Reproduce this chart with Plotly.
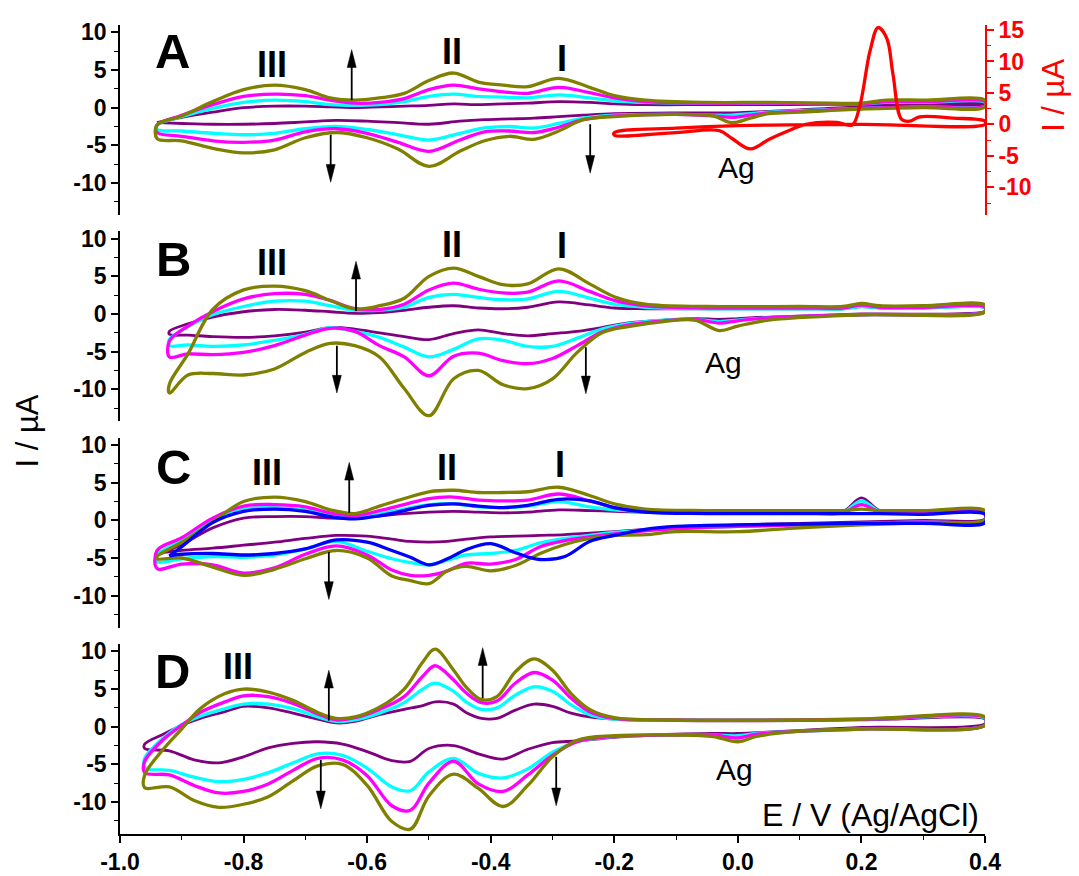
import plotly.graph_objects as go

# ---------------- data (E in V, I in uA) ----------------
# Panel A
E_A_UP = [-0.94, -0.9, -0.85, -0.8, -0.75, -0.7, -0.66, -0.62, -0.58, -0.54, -0.5, -0.46, -0.42,
          -0.38, -0.34, -0.29, -0.24, -0.2, -0.15, -0.05, 0.05, 0.15, 0.2, 0.24, 0.3, 0.4]
E_A_DN = [0.4, 0.3, 0.2, 0.1, 0.05, 0.02, -0.01, -0.04, -0.1, -0.2, -0.25, -0.29, -0.33, -0.37,
          -0.41, -0.45, -0.5, -0.55, -0.6, -0.65, -0.7, -0.75, -0.8, -0.85, -0.9, -0.94]
A_PURPLE_UP = [-2.0, -1.3, -0.6, 0.0, 0.2, 0.2, 0.1, 0.0, 0.1, 0.2, 0.3, 0.5, 0.4, 0.5, 0.6, 0.8, 0.7, 0.5, 0.4, 0.4, 0.4, 0.4, 0.4, 0.5, 0.5, 0.5]
A_PURPLE_DN = [0.4, 0.3, 0.1, -0.3, -0.5, -0.6, -0.7, -0.7, -0.7, -0.8, -1.0, -1.2, -1.4, -1.5, -1.6, -1.8, -2.2, -2.0, -1.8, -1.7, -1.9, -2.1, -2.2, -2.2, -2.1, -2.0]
A_CYAN_UP = [-2.3, -1.2, -0.1, 0.7, 1.0, 0.8, 0.4, 0.3, 0.4, 0.8, 1.5, 1.8, 1.5, 1.4, 1.3, 1.7, 1.3, 0.9, 0.7, 0.6, 0.6, 0.5, 0.5, 0.7, 0.7, 0.7]
A_CYAN_DN = [0.2, 0.1, -0.1, -0.4, -0.6, -0.8, -1.0, -1.0, -0.9, -1.0, -1.4, -2.1, -2.7, -2.5, -2.7, -3.4, -4.3, -3.6, -2.9, -2.5, -2.8, -3.4, -3.6, -3.4, -3.1, -2.9]
A_MAGENTA_UP = [-2.3, -1.0, 0.4, 1.5, 1.8, 1.6, 1.0, 0.6, 0.7, 1.2, 2.4, 3.0, 2.5, 2.1, 1.9, 2.7, 2.0, 1.3, 0.8, 0.6, 0.6, 0.5, 0.5, 0.8, 0.8, 0.8]
A_MAGENTA_DN = [0.2, 0.1, -0.1, -0.5, -0.7, -1.0, -1.3, -1.1, -0.9, -1.1, -1.6, -2.6, -3.3, -3.1, -3.2, -4.3, -5.8, -4.6, -3.4, -2.8, -3.2, -4.3, -4.6, -4.4, -3.8, -3.3]
A_OLIVE_UP = [-2.3, -1.1, 0.8, 2.4, 3.0, 2.4, 1.3, 1.0, 1.3, 1.9, 3.6, 4.6, 3.4, 3.0, 2.8, 3.9, 2.7, 1.6, 1.0, 0.7, 0.7, 0.6, 0.6, 1.0, 1.0, 1.0]
A_OLIVE_DN = [0.1, 0.0, -0.2, -0.6, -0.8, -1.4, -2.0, -1.1, -0.9, -1.2, -1.6, -3.1, -4.2, -3.8, -4.4, -5.8, -7.8, -5.5, -4.0, -3.3, -4.0, -5.6, -6.0, -5.4, -4.4, -4.1]
# Ag reference CV (right axis)
E_RED_FWD = [-0.2, -0.1, -0.03, -0.01, 0.02, 0.05, 0.08, 0.11, 0.16, 0.185, 0.197, 0.214, 0.227, 0.241, 0.251, 0.265, 0.278, 0.294, 0.348, 0.4]
I_RED_FWD = [-1.7, -1.3, -1.0, -2.2, -3.9, -2.4, -1.1, 0.0, 0.3, -0.1, 2.8, 11.7, 15.4, 13.7, 8.0, 0.8, 0.5, 1.2, 1.0, 0.5]
E_RED_REV = [0.4, 0.2, 0.0, -0.1, -0.2]
I_RED_REV = [0.0, 0.0, -0.2, -0.6, -1.3]

# Panel B
E_B_UP = [-0.92, -0.89, -0.85, -0.8, -0.75, -0.7, -0.66, -0.62, -0.58, -0.54, -0.5, -0.46, -0.42,
          -0.38, -0.34, -0.29, -0.24, -0.2, -0.15, -0.05, 0.1, 0.17, 0.2, 0.23, 0.3, 0.4]
E_B_DN = [0.4, 0.2, 0.05, 0.0, -0.03, -0.07, -0.12, -0.18, -0.22, -0.26, -0.3, -0.34, -0.38, -0.42,
          -0.46, -0.5, -0.54, -0.58, -0.62, -0.66, -0.7, -0.75, -0.8, -0.85, -0.89, -0.92]
B_PURPLE_UP = [-2.3, -1.3, -0.4, 0.3, 0.6, 0.5, 0.3, 0.1, 0.2, 0.5, 0.9, 1.1, 0.8, 0.7, 0.9, 1.6, 1.2, 0.8, 0.7, 0.7, 0.7, 0.7, 1.0, 0.8, 0.8, 0.8]
B_PURPLE_DN = [0.4, 0.0, -0.4, -0.6, -0.7, -0.6, -0.8, -1.2, -1.8, -2.3, -2.6, -2.9, -2.6, -2.1, -2.6, -3.4, -3.0, -2.5, -2.0, -1.8, -2.4, -2.9, -3.1, -3.0, -2.8, -2.7]
B_CYAN_UP = [-3.4, -1.7, -0.1, 1.0, 1.7, 1.7, 1.1, 0.5, 0.5, 0.9, 2.2, 2.6, 2.2, 1.9, 2.0, 3.0, 2.1, 1.3, 0.9, 0.7, 0.7, 0.7, 1.0, 0.8, 0.8, 0.8]
B_CYAN_DN = [0.3, -0.1, -0.5, -0.8, -1.0, -0.7, -0.8, -1.3, -2.0, -3.2, -4.3, -4.3, -3.5, -3.3, -4.7, -5.7, -4.4, -3.1, -2.3, -1.8, -2.7, -3.5, -4.1, -4.3, -4.1, -4.2]
B_MAGENTA_UP = [-3.6, -1.6, 0.3, 2.0, 2.7, 2.6, 1.8, 0.7, 0.6, 1.3, 3.2, 4.1, 3.3, 2.8, 2.9, 4.4, 3.0, 1.8, 1.1, 0.8, 0.8, 0.8, 1.2, 0.9, 0.9, 0.9]
B_MAGENTA_DN = [0.3, -0.1, -0.5, -0.9, -1.2, -0.7, -0.9, -1.5, -2.4, -4.2, -5.9, -6.6, -6.2, -5.2, -5.6, -8.2, -5.7, -4.2, -2.3, -1.9, -2.8, -4.2, -5.1, -5.4, -5.3, -5.7]
B_OLIVE_UP = [-9.3, -5.3, 0.6, 3.2, 3.7, 3.1, 1.8, 0.7, 1.1, 2.1, 5.0, 6.1, 5.0, 3.9, 4.0, 6.0, 4.0, 2.3, 1.3, 1.0, 1.0, 1.0, 1.4, 1.1, 1.1, 1.2]
B_OLIVE_DN = [0.3, -0.1, -0.8, -1.6, -2.2, -0.8, -1.0, -1.7, -2.5, -5.1, -8.6, -9.9, -9.4, -7.5, -8.6, -13.5, -9.9, -5.7, -4.2, -3.9, -5.1, -7.3, -8.1, -7.9, -8.1, -10.5]

# Panel C
E_C_UP = [-0.94, -0.9, -0.85, -0.8, -0.75, -0.7, -0.66, -0.62, -0.58, -0.54, -0.5, -0.46, -0.42,
          -0.38, -0.34, -0.29, -0.24, -0.2, -0.15, -0.05, 0.1, 0.17, 0.2, 0.23, 0.3, 0.4]
E_C_DN = [0.4, 0.3, 0.2, 0.1, 0.0, -0.1, -0.15, -0.2, -0.24, -0.28, -0.32, -0.36, -0.4, -0.44,
          -0.47, -0.5, -0.53, -0.56, -0.6, -0.65, -0.7, -0.75, -0.8, -0.85, -0.9, -0.94]
E_C_UP_BLUE = [-0.92] + E_C_UP[1:]
E_C_DN_BLUE = E_C_DN[:-1] + [-0.92]
C_PURPLE_UP = [-4.6, -3.2, -1.0, 0.3, 0.5, 0.5, 0.3, 0.3, 0.6, 0.9, 1.1, 1.2, 1.1, 1.0, 1.1, 1.4, 1.3, 1.2, 1.1, 1.1, 1.1, 1.2, 3.0, 1.3, 1.1, 1.1]
C_PURPLE_DN = [0.2, 0.0, -0.2, -0.4, -0.6, -0.9, -1.2, -1.5, -1.7, -1.9, -2.0, -2.1, -2.2, -2.5, -2.8, -2.9, -2.8, -2.5, -2.1, -2.0, -2.4, -2.9, -3.3, -3.7, -4.0, -4.5]
C_CYAN_UP = [-4.6, -2.6, 0.1, 1.5, 1.7, 1.4, 0.8, 0.4, 0.9, 1.5, 2.1, 2.2, 1.8, 1.7, 1.9, 2.5, 1.8, 1.4, 1.2, 1.1, 1.1, 1.1, 2.6, 1.2, 1.1, 1.1]
C_CYAN_DN = [0.0, -0.2, -0.4, -0.6, -0.8, -1.0, -1.3, -1.6, -2.0, -2.4, -3.0, -4.0, -4.4, -4.6, -5.3, -5.9, -5.6, -5.1, -4.1, -2.8, -3.8, -4.6, -4.9, -4.8, -5.1, -5.5]
C_MAGENTA_UP = [-4.0, -2.3, 0.3, 1.9, 2.1, 1.8, 1.0, 0.6, 1.3, 2.1, 2.9, 3.1, 2.7, 2.6, 2.7, 3.5, 2.6, 1.7, 1.2, 1.0, 1.0, 1.0, 2.1, 1.1, 1.0, 1.0]
C_MAGENTA_DN = [0.0, -0.2, -0.4, -0.6, -0.8, -1.1, -1.4, -1.8, -2.2, -2.7, -3.5, -5.2, -5.8, -5.7, -6.7, -7.3, -7.3, -6.6, -4.6, -3.4, -4.5, -6.3, -7.0, -5.9, -5.8, -6.4]
C_OLIVE_UP = [-4.8, -2.9, -0.2, 2.5, 3.1, 2.5, 1.4, 0.9, 1.9, 2.9, 3.8, 4.0, 3.7, 3.7, 3.8, 4.4, 3.3, 2.2, 1.5, 1.3, 1.3, 1.3, 1.5, 1.3, 1.3, 1.3]
C_OLIVE_DN = [0.1, -0.3, -0.6, -1.0, -1.5, -1.5, -1.9, -2.0, -2.4, -3.2, -4.4, -6.0, -6.7, -6.1, -6.7, -8.4, -8.0, -7.4, -5.0, -4.0, -5.1, -6.5, -7.3, -6.2, -5.0, -5.1]
C_BLUE_UP = [-4.7, -3.5, -0.3, 1.2, 1.5, 1.2, 0.5, 0.2, 0.6, 1.3, 2.0, 2.2, 1.9, 1.7, 2.0, 2.8, 2.6, 1.7, 1.1, 0.9, 0.9, 0.9, 0.9, 0.9, 0.8, 0.8]
C_BLUE_DN = [-0.3, -0.4, -0.4, -0.5, -0.6, -0.8, -1.2, -2.0, -2.8, -4.8, -5.2, -4.3, -3.1, -3.9, -5.1, -5.9, -4.9, -4.0, -2.9, -2.6, -3.8, -4.4, -4.6, -4.4, -4.5, -4.7]

# Panel D
E_D_UP = [-0.96, -0.93, -0.9, -0.87, -0.83, -0.8, -0.76, -0.72, -0.68, -0.65, -0.62, -0.58, -0.54, -0.51,
          -0.49, -0.46, -0.44, -0.415, -0.39, -0.36, -0.33, -0.3, -0.27, -0.24, -0.2, -0.1, 0.1, 0.2, 0.25, 0.4]
E_D_DN = [0.4, 0.2, 0.1, 0.03, 0.0, -0.04, -0.1, -0.2, -0.26, -0.3, -0.34, -0.38, -0.42, -0.46, -0.5,
          -0.53, -0.56, -0.6, -0.64, -0.68, -0.72, -0.76, -0.8, -0.84, -0.88, -0.92, -0.96]
D_PURPLE_UP = [-2.3, -1.0, 0.2, 1.1, 2.0, 2.7, 2.5, 1.8, 1.0, 0.5, 0.7, 1.6, 2.3, 2.8, 3.3, 3.0, 1.9, 1.1, 1.1, 2.2, 3.0, 2.7, 1.8, 1.3, 1.0, 0.8, 0.8, 0.9, 1.0, 1.0]
D_PURPLE_DN = [0.4, -0.1, -0.5, -0.8, -0.9, -0.9, -1.0, -1.4, -1.9, -2.1, -3.0, -4.3, -3.6, -2.5, -2.9, -4.6, -4.5, -3.3, -2.3, -2.0, -2.2, -2.8, -4.0, -4.8, -4.4, -3.2, -2.9]
D_CYAN_UP = [-4.2, -1.5, 0.3, 1.4, 2.4, 3.0, 3.0, 2.4, 1.3, 0.7, 0.9, 1.8, 3.2, 5.0, 5.8, 4.7, 3.3, 2.3, 2.5, 4.2, 5.3, 4.7, 2.9, 1.6, 1.0, 0.9, 0.9, 1.0, 1.1, 1.1]
D_CYAN_DN = [0.2, -0.3, -0.6, -0.9, -1.2, -1.1, -1.1, -1.3, -2.0, -3.4, -5.6, -6.8, -6.2, -4.2, -6.0, -8.5, -8.0, -5.5, -3.8, -3.6, -4.8, -6.1, -7.0, -7.3, -6.7, -5.8, -5.5]
D_MAGENTA_UP = [-4.6, -1.7, 0.2, 1.9, 3.3, 4.1, 4.0, 3.1, 1.7, 0.9, 1.2, 2.3, 4.0, 6.7, 8.1, 6.2, 4.5, 3.2, 3.4, 5.8, 7.2, 6.2, 3.8, 2.0, 1.1, 0.9, 0.9, 1.0, 1.1, 1.2]
D_MAGENTA_DN = [0.2, -0.3, -0.6, -1.0, -1.5, -1.1, -1.1, -1.3, -2.0, -3.8, -6.4, -8.6, -7.6, -4.6, -7.5, -11.1, -10.5, -6.5, -4.4, -4.2, -5.8, -7.6, -8.6, -8.8, -7.8, -6.4, -6.1]
D_OLIVE_UP = [-6.4, -3.0, -0.3, 2.4, 4.4, 5.0, 4.6, 3.5, 1.9, 1.1, 1.3, 2.6, 5.0, 8.6, 10.3, 7.5, 5.3, 3.6, 4.0, 7.3, 9.0, 7.5, 4.4, 2.3, 1.2, 0.9, 0.9, 1.0, 1.2, 1.3]
D_OLIVE_DN = [0.2, -0.3, -0.6, -1.3, -2.0, -1.3, -1.1, -1.2, -1.8, -4.0, -7.8, -10.6, -8.2, -6.3, -9.2, -13.6, -12.6, -7.8, -5.0, -5.2, -7.2, -9.3, -10.3, -10.7, -9.8, -8.0, -8.1]

# ticks
X_TICKS = [-1.0, -0.8, -0.6, -0.4, -0.2, 0.0, 0.2, 0.4]
X_TICK_TEXT = ["-1.0", "-0.8", "-0.6", "-0.4", "-0.2", "0.0", "0.2", "0.4"]
X_MINOR = [-0.9, -0.7, -0.5, -0.3, -0.1, 0.1, 0.3]
Y_TICKS = [-10, -5, 0, 5, 10]
Y_TICK_TEXT = ["-10", "-5", "0", "5", "10"]
Y_MINOR = [-12.5, -7.5, -2.5, 2.5, 7.5]
Y2_TICKS = [-10, -5, 0, 5, 10, 15]
Y2_TICK_TEXT = ["-10", "-5", "0", "5", "10", "15"]
Y2_MINOR = [-12.5, -7.5, -2.5, 2.5, 7.5, 12.5]

# ---------------- style / layout ----------------
W, H = 1079, 876
ML, MR, MT, MB = 112, 102, 9, 45
X_RANGE = [-1.0, 0.4]
Y_RANGE = [-14.25, 10.98]
Y2_RANGE = [-14.4, 15.8]
PH = 0.2348
GAP = (1 - 4 * PH) / 3
FONT = "Liberation Sans, Arial, sans-serif"
COLORS = dict(purple="#800080", cyan="#00FFFF", magenta="#FF00FF", olive="#808000",
              blue="#0000FF", red="#FF0000")
WIDTHS = dict(purple=2.8, cyan=3.3, magenta=3.3, olive=3.3, blue=3.3, red=3.3)

fig = go.Figure()


def add_loop(E_up, I_up, E_dn, I_dn, color, xa, ya):
    fig.add_trace(go.Scatter(
        x=list(E_up) + list(E_dn) + [E_up[0]],
        y=list(I_up) + list(I_dn) + [I_up[0]],
        mode="lines", xaxis=xa, yaxis=ya, showlegend=False, hoverinfo="skip",
        line=dict(color=COLORS[color], width=WIDTHS[color], shape="spline", smoothing=1.0)))


PANELS = [
    ("x", "y", [("purple", E_A_UP, A_PURPLE_UP, E_A_DN, A_PURPLE_DN),
                ("cyan", E_A_UP, A_CYAN_UP, E_A_DN, A_CYAN_DN),
                ("magenta", E_A_UP, A_MAGENTA_UP, E_A_DN, A_MAGENTA_DN),
                ("olive", E_A_UP, A_OLIVE_UP, E_A_DN, A_OLIVE_DN)]),
    ("x2", "y2", [("purple", E_B_UP, B_PURPLE_UP, E_B_DN, B_PURPLE_DN),
                  ("cyan", E_B_UP, B_CYAN_UP, E_B_DN, B_CYAN_DN),
                  ("magenta", E_B_UP, B_MAGENTA_UP, E_B_DN, B_MAGENTA_DN),
                  ("olive", E_B_UP, B_OLIVE_UP, E_B_DN, B_OLIVE_DN)]),
    ("x3", "y3", [("purple", E_C_UP, C_PURPLE_UP, E_C_DN, C_PURPLE_DN),
                  ("cyan", E_C_UP, C_CYAN_UP, E_C_DN, C_CYAN_DN),
                  ("magenta", E_C_UP, C_MAGENTA_UP, E_C_DN, C_MAGENTA_DN),
                  ("olive", E_C_UP, C_OLIVE_UP, E_C_DN, C_OLIVE_DN),
                  ("blue", E_C_UP_BLUE, C_BLUE_UP, E_C_DN_BLUE, C_BLUE_DN)]),
    ("x4", "y4", [("purple", E_D_UP, D_PURPLE_UP, E_D_DN, D_PURPLE_DN),
                  ("cyan", E_D_UP, D_CYAN_UP, E_D_DN, D_CYAN_DN),
                  ("magenta", E_D_UP, D_MAGENTA_UP, E_D_DN, D_MAGENTA_DN),
                  ("olive", E_D_UP, D_OLIVE_UP, E_D_DN, D_OLIVE_DN)]),
]
for xa, ya, curves in PANELS:
    for color, eu, iu, ed, idn in curves:
        add_loop(eu, iu, ed, idn, color, xa, ya)

# red Ag CV on the right axis of panel A
add_loop(E_RED_FWD, I_RED_FWD, E_RED_REV, I_RED_REV, "red", "x", "y5")

tickfont = dict(family=FONT, size=23, color="black", weight="bold")
yaxis_common = dict(range=Y_RANGE, showline=True, linecolor="black", linewidth=1.6,
                    ticks="outside", ticklen=7, tickwidth=1.6, tickcolor="black",
                    tickvals=Y_TICKS, ticktext=Y_TICK_TEXT, tickfont=tickfont,
                    minor=dict(tickvals=Y_MINOR, ticks="outside", ticklen=4, tickwidth=1.3,
                               tickcolor="black"),
                    showgrid=False, zeroline=False, fixedrange=True)
domains = [[3 * PH + 3 * GAP, 1.0], [2 * PH + 2 * GAP, 3 * PH + 2 * GAP],
           [PH + GAP, 2 * PH + GAP], [0.0, PH]]

layout = dict(width=W, height=H, margin=dict(l=ML, r=MR, t=MT, b=MB),
              paper_bgcolor="white", plot_bgcolor="white", showlegend=False,
              font=dict(family=FONT, color="black"))
for i in range(4):
    sx = "" if i == 0 else str(i + 1)
    ya = "y" if i == 0 else "y" + str(i + 1)
    xa = "x" if i == 0 else "x" + str(i + 1)
    layout["yaxis" + sx] = dict(yaxis_common, domain=domains[i], anchor=xa)
    if i < 3:
        layout["xaxis" + sx] = dict(domain=[0, 1], anchor=ya, matches="x4", visible=False,
                                    range=X_RANGE)
    else:
        layout["xaxis" + sx] = dict(domain=[0, 1], anchor=ya, range=X_RANGE, showline=True,
                                    linecolor="black", linewidth=1.6, ticks="outside",
                                    ticklen=7, tickwidth=1.6, tickcolor="black",
                                    tickvals=X_TICKS, ticktext=X_TICK_TEXT, tickfont=tickfont,
                                    minor=dict(tickvals=X_MINOR, ticks="outside", ticklen=4,
                                               tickwidth=1.3, tickcolor="black"),
                                    showgrid=False, zeroline=False)
layout["yaxis5"] = dict(overlaying="y", side="right", anchor="x", range=Y2_RANGE,
                        showline=True, linecolor="red", linewidth=1.6, ticks="outside",
                        ticklen=7, tickwidth=1.6, tickcolor="red",
                        tickvals=Y2_TICKS, ticktext=Y2_TICK_TEXT,
                        tickfont=dict(family=FONT, size=23, color="red", weight="bold"),
                        minor=dict(tickvals=Y2_MINOR, ticks="outside", ticklen=4,
                                   tickwidth=1.3, tickcolor="red"),
                        showgrid=False, zeroline=False)
fig.update_layout(**layout)

# ---------------- text labels ----------------
ann = []
plot_w = W - ML - MR
plot_h = H - MT - MB


def label(text, x, y, xr, yr, size, bold=True, color="black"):
    ann.append(dict(text=text, x=x, y=y, xref=xr, yref=yr, showarrow=False,
                    xanchor="center", yanchor="middle",
                    font=dict(family=FONT, size=size, color=color,
                              weight="bold" if bold else "normal")))


LABELS = [
    ("x", "y", [("A", -0.915, 7.5), ("III", -0.754, 5.7), ("II", -0.463, 7.4), ("I", -0.285, 6.5)], (-0.002, -7.9)),
    ("x2", "y2", [("B", -0.914, 7.3), ("III", -0.754, 6.8), ("II", -0.463, 9.2), ("I", -0.285, 9.1)], (-0.023, -6.5)),
    ("x3", "y3", [("C", -0.914, 7.1), ("III", -0.762, 6.4), ("II", -0.471, 7.0), ("I", -0.288, 7.4)], None),
    ("x4", "y4", [("D", -0.915, 7.4), ("III", -0.809, 8.0), ("II", -0.49, 13.5), ("I", -0.332, 12.3)], (-0.005, -5.7)),
]
for xr, yr, items, ag in LABELS:
    for t, x, y in items:
        label(t, x, y, xr, yr, 49 if len(t) == 1 and t != "I" else 36)
    if ag:
        label("Ag", ag[0], ag[1], xr, yr, 30, bold=False)


def paper_x(px):
    return (px - ML) / plot_w


def paper_y(py):
    return (H - MB - py) / plot_h


ann.append(dict(text="I / µA", x=paper_x(19), y=paper_y(422), xref="paper", yref="paper",
                showarrow=False, textangle=-90, xanchor="center", yanchor="middle",
                font=dict(family=FONT, size=31, color="black")))
ann.append(dict(text="I / µA", x=paper_x(1046), y=paper_y(81), xref="paper", yref="paper",
                showarrow=False, textangle=-90, xanchor="center", yanchor="middle",
                font=dict(family=FONT, size=31, color="red")))
ann.append(dict(text="E / V (Ag/AgCl)", x=paper_x(862), y=paper_y(812), xref="paper",
                yref="paper", showarrow=False, xanchor="center", yanchor="middle",
                font=dict(family=FONT, size=32, color="black")))
fig.update_layout(annotations=ann)

# ---------------- arrows ----------------
ARROWS = [
    ("x", "y", -0.625, 1.0, 7.7), ("x", "y", -0.659, -3.6, -9.9), ("x", "y", -0.239, -2.2, -8.7),
    ("x2", "y2", -0.618, 0.4, 7.0), ("x2", "y2", -0.649, -4.2, -10.5), ("x2", "y2", -0.246, -4.4, -10.6),
    ("x3", "y3", -0.629, 1.0, 7.7), ("x3", "y3", -0.662, -4.2, -10.5),
    ("x4", "y4", -0.662, 0.8, 7.5), ("x4", "y4", -0.675, -4.4, -10.9),
    ("x4", "y4", -0.413, 3.8, 10.5), ("x4", "y4", -0.294, -4.0, -10.5),
]
ppx = plot_w / (X_RANGE[1] - X_RANGE[0])
ppy = PH * plot_h / (Y_RANGE[1] - Y_RANGE[0])
head_len = 18 / ppy
half_w = 4.5 / ppx
shapes = []
for xr, yr, x, yt, yh in ARROWS:
    sgn = 1 if yh > yt else -1
    yb = yh - sgn * head_len
    shapes.append(dict(type="line", xref=xr, yref=yr, x0=x, x1=x, y0=yt, y1=yb + sgn * 0.3,
                       line=dict(color="black", width=1.8)))
    shapes.append(dict(type="path", xref=xr, yref=yr,
                       path=f"M {x},{yh} L {x - half_w},{yb} L {x + half_w},{yb} Z",
                       fillcolor="black", line=dict(color="black", width=0.5)))
fig.update_layout(shapes=shapes)

fig.write_html("out.html")
